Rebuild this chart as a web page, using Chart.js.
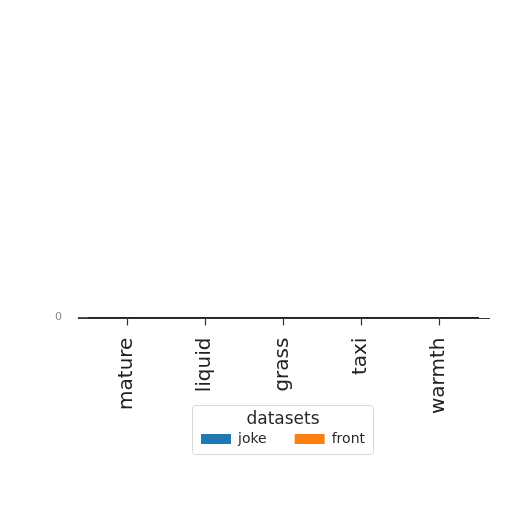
<!DOCTYPE html>
<html>
<head>
<meta charset="utf-8">
<script src="https://cdn.jsdelivr.net/npm/chart.js@4.4.1/dist/chart.umd.min.js"></script>
<style>
  html, body { margin: 0; padding: 0; background: #fff; }
  #wrap { width: 512px; height: 512px; }
</style>
</head>
<body>
<div id="wrap"><canvas id="chart" width="512" height="512"></canvas></div>
<script>
// dati del grafico
const categorie = ["mature", "liquid", "grass", "taxi", "warmth"];
const serieJoke = [0, 0, 0, 0, 0];
const serieFront = [0, 0, 0, 0, 0];
const tickY = [0];

const FONT = "'DejaVu Sans', sans-serif";

// riquadro della legenda, legenda un po' piu' in alto, asse x con tacche
const decorazioni = {
  id: "decorazioni",
  afterLayout(chart) {
    const lg = chart.legend;
    if (!lg) return;
    lg.top -= 8;
    lg.bottom -= 8;
  },
  beforeDraw(chart) {
    const lg = chart.legend;
    if (!lg || !lg.legendHitBoxes || !lg.legendHitBoxes.length) return;
    const boxes = lg.legendHitBoxes;
    const left = Math.min(...boxes.map(b => b.left)) - 9;
    const right = Math.max(...boxes.map(b => b.left + b.width)) + 8;
    const top = lg.top - 3;
    const bottom = Math.max(...boxes.map(b => b.top + b.height)) + 8;
    const ctx = chart.ctx;
    ctx.save();
    ctx.fillStyle = "#fff";
    ctx.strokeStyle = "#d8d8d8";
    ctx.lineWidth = 1;
    ctx.beginPath();
    ctx.roundRect(Math.round(left) + 0.5, Math.round(top) + 0.5, Math.round(right - left), Math.round(bottom - top), 3);
    ctx.fill();
    ctx.stroke();
    ctx.restore();
  },
  afterDraw(chart) {
    const a = chart.chartArea;
    const sx = chart.scales.x;
    const ctx = chart.ctx;
    const y = Math.round(a.bottom) + 0.5;
    ctx.save();
    ctx.strokeStyle = "#333";
    ctx.lineWidth = 1;
    ctx.beginPath();
    ctx.moveTo(a.left - 10, y);
    ctx.lineTo(a.right + 12, y);
    ctx.stroke();
    ctx.lineWidth = 1.2;
    categorie.forEach((c, i) => {
      const px = Math.round(sx.getPixelForValue(i)) + 0.5;
      ctx.beginPath();
      ctx.moveTo(px, y - 0.5);
      ctx.lineTo(px, y + 7);
      ctx.stroke();
    });
    ctx.restore();
  }
};

new Chart(document.getElementById("chart"), {
  type: "bar",
  data: {
    labels: categorie,
    datasets: [
      { label: "joke", data: serieJoke, backgroundColor: "#1f77b4", borderWidth: 0 },
      { label: "front", data: serieFront, backgroundColor: "#ff7f0e", borderWidth: 0 }
    ]
  },
  options: {
    responsive: false,
    animation: false,
    layout: { padding: { top: 316, left: 0, right: 34, bottom: 48 } },
    plugins: {
      tooltip: { enabled: false },
      legend: {
        position: "bottom",
        align: "center",
        fullSize: false,
        title: {
          display: true,
          text: "datasets",
          color: "#262626",
          font: { family: FONT, size: 17 },
          padding: { top: 3, bottom: -27 }
        },
        labels: {
          color: "#262626",
          font: { family: FONT, size: 14 },
          boxWidth: 30,
          boxHeight: 10,
          padding: 28
        }
      }
    },
    scales: {
      x: {
        afterFit(scale) { scale.height = 98; },
        border: { display: true, color: "#222", width: 1 },
        grid: { display: false, drawOnChartArea: false, tickLength: 7 },
        ticks: {
          autoSkip: false,
          minRotation: 90,
          maxRotation: 90,
          padding: 13,
          color: "#222",
          font: { family: FONT, size: 20 }
        }
      },
      y: {
        min: 0,
        max: 1,
        afterFit(scale) { scale.width = 88; },
        afterBuildTicks(scale) { scale.ticks = tickY.map(v => ({ value: v })); },
        border: { display: false },
        grid: { display: true, drawOnChartArea: false, drawTicks: true, tickLength: 10, color: "#555" },
        ticks: {
          padding: 16,
          color: "#888",
          font: { family: FONT, size: 11 }
        }
      }
    }
  },
  plugins: [decorazioni]
});
</script>
</body>
</html>
